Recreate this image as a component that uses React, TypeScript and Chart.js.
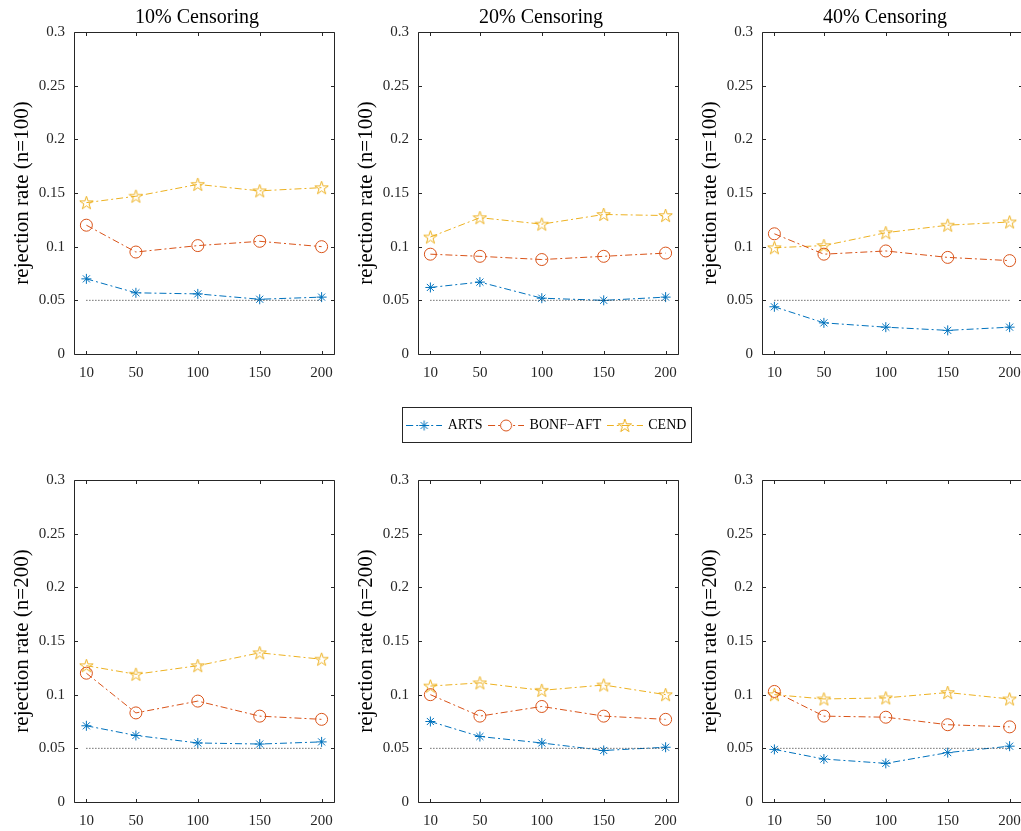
import React, { useEffect, useRef } from 'react';
import { Chart, registerables } from 'chart.js';

Chart.register(...registerables);

// ---------- data ----------
const xValues = [10, 50, 100, 150, 200];
const xTickLabels = ['10', '50', '100', '150', '200'];
const yTickValues = [0, 0.05, 0.1, 0.15, 0.2, 0.25, 0.3];
const yTickLabels = ['0', '0.05', '0.1', '0.15', '0.2', '0.25', '0.3'];
const seriesNames = ['ARTS', 'BONF\u2212AFT', 'CEND'];
const panelTitles = ['10% Censoring', '20% Censoring', '40% Censoring'];
const rowTitles = ['rejection rate (n=100)', 'rejection rate (n=200)'];
const nominalX = [10, 200];
const nominalLevel = 0.05;

const arts100_10 = [0.070, 0.057, 0.056, 0.051, 0.053];
const bonf100_10 = [0.120, 0.095, 0.101, 0.105, 0.100];
const cend100_10 = [0.141, 0.147, 0.158, 0.152, 0.155];
const arts100_20 = [0.062, 0.067, 0.052, 0.050, 0.053];
const bonf100_20 = [0.093, 0.091, 0.088, 0.091, 0.094];
const cend100_20 = [0.109, 0.127, 0.121, 0.130, 0.129];
const arts100_40 = [0.044, 0.029, 0.025, 0.022, 0.025];
const bonf100_40 = [0.112, 0.093, 0.096, 0.090, 0.087];
const cend100_40 = [0.099, 0.101, 0.113, 0.120, 0.123];
const arts200_10 = [0.071, 0.062, 0.055, 0.054, 0.056];
const bonf200_10 = [0.120, 0.083, 0.094, 0.080, 0.077];
const cend200_10 = [0.127, 0.119, 0.127, 0.139, 0.133];
const arts200_20 = [0.075, 0.061, 0.055, 0.048, 0.051];
const bonf200_20 = [0.100, 0.080, 0.089, 0.080, 0.077];
const cend200_20 = [0.108, 0.111, 0.104, 0.109, 0.100];
const arts200_40 = [0.049, 0.040, 0.036, 0.046, 0.052];
const bonf200_40 = [0.103, 0.080, 0.079, 0.072, 0.070];
const cend200_40 = [0.100, 0.096, 0.097, 0.102, 0.096];

// ---------- styles ----------
const FONT = "'Liberation Serif', 'Times New Roman', serif";
const AXIS_COLOR = '#262626';
const colors = ['#0072BD', '#D95319', '#EDB120'];
const DASH_DOT = [7, 3, 2, 3];

function drawPentagram(ctx: CanvasRenderingContext2D, cx: number, cy: number, R: number) {
  ctx.beginPath();
  for (let i = 0; i < 10; i++) {
    const a = -Math.PI / 2 + (i * Math.PI) / 5;
    const r = i % 2 === 0 ? R : R * 0.382;
    const px = cx + r * Math.cos(a);
    const py = cy + r * Math.sin(a);
    if (i === 0) ctx.moveTo(px, py);
    else ctx.lineTo(px, py);
  }
  ctx.closePath();
  ctx.stroke();
}

function drawAsterisk(ctx: CanvasRenderingContext2D, cx: number, cy: number, r: number) {
  ctx.beginPath();
  for (let i = 0; i < 4; i++) {
    const a = (i * Math.PI) / 4;
    ctx.moveTo(cx - r * Math.cos(a), cy - r * Math.sin(a));
    ctx.lineTo(cx + r * Math.cos(a), cy + r * Math.sin(a));
  }
  ctx.stroke();
}

function makePentagramImage(color: string) {
  const c = document.createElement('canvas');
  c.width = 15;
  c.height = 15;
  const ctx = c.getContext('2d')!;
  ctx.strokeStyle = color;
  ctx.lineWidth = 1;
  drawPentagram(ctx, 7.5, 8, 7);
  return c;
}

function makeLegendImage(kind: number) {
  const c = document.createElement('canvas');
  c.width = 36;
  c.height = 16;
  const ctx = c.getContext('2d')!;
  const color = colors[kind];
  ctx.strokeStyle = color;
  ctx.lineWidth = 1;
  ctx.setLineDash(DASH_DOT);
  ctx.beginPath();
  ctx.moveTo(0, 8.5);
  ctx.lineTo(36, 8.5);
  ctx.stroke();
  ctx.setLineDash([]);
  if (kind === 0) drawAsterisk(ctx, 18, 8.5, 5);
  if (kind === 1) {
    ctx.fillStyle = '#fff';
    ctx.beginPath();
    ctx.arc(18, 8.5, 5.5, 0, Math.PI * 2);
    ctx.fill();
    ctx.stroke();
  }
  if (kind === 2) {
    drawPentagram(ctx, 18, 9, 7);
  }
  return c;
}

const boxPlugin = {
  id: 'matlabBox',
  afterDatasetsDraw(chart: any) {
    const { ctx, chartArea } = chart;
    const { left, right, top, bottom } = chartArea;
    const xs = chart.scales.x;
    const ys = chart.scales.y;
    ctx.save();
    ctx.strokeStyle = AXIS_COLOR;
    ctx.lineWidth = 1;
    ctx.setLineDash([]);
    ctx.beginPath();
    const L = Math.round(left) + 0.5;
    const R = Math.round(right) + 0.5;
    const T = Math.round(top) + 0.5;
    const B = Math.round(bottom) + 0.5;
    ctx.rect(L, T, R - L, B - T);
    const tl = 3.5;
    xValues.forEach((v) => {
      const px = Math.round(xs.getPixelForValue(v)) + 0.5;
      ctx.moveTo(px, B);
      ctx.lineTo(px, B - tl);
      ctx.moveTo(px, T);
      ctx.lineTo(px, T + tl);
    });
    yTickValues.forEach((v) => {
      const py = Math.round(ys.getPixelForValue(v)) + 0.5;
      ctx.moveTo(L, py);
      ctx.lineTo(L + tl, py);
      ctx.moveTo(R, py);
      ctx.lineTo(R - tl, py);
    });
    ctx.stroke();
    ctx.restore();
  },
};

type PanelProps = {
  title: string | null;
  yTitle: string;
  arts: number[];
  bonf: number[];
  cend: number[];
  left: number;
  top: number;
  height: number;
  xAxisHeight: number;
};

function Panel(props: PanelProps) {
  const ref = useRef<HTMLCanvasElement>(null);
  useEffect(() => {
    if (!ref.current) return;
    const star = makePentagramImage(colors[2]);
    const series = [props.arts, props.bonf, props.cend];
    const markerStyles: any[] = ['star', 'circle', star];
    const markerRadius = [5, 6, 7];
    const datasets: any[] = [
      {
        label: 'nominal',
        data: nominalX.map((x) => ({ x, y: nominalLevel })),
        borderColor: AXIS_COLOR,
        borderWidth: 1,
        borderDash: [1, 2],
        pointRadius: 0,
        fill: false,
      },
      ...series.map((vals, i) => ({
        label: seriesNames[i],
        data: vals.map((y, j) => ({ x: xValues[j], y })),
        borderColor: colors[i],
        borderWidth: 1,
        borderDash: DASH_DOT,
        pointStyle: markerStyles[i],
        pointRadius: markerRadius[i],
        pointBorderColor: colors[i],
        pointBackgroundColor: 'rgba(0,0,0,0)',
        pointBorderWidth: 1,
        fill: false,
        tension: 0,
      })),
    ];
    const tickFont = { family: FONT, size: 15 };
    const chart = new Chart(ref.current, {
      type: 'line',
      data: { datasets },
      options: {
        responsive: false,
        animation: false,
        events: [],
        layout: { padding: { top: props.title ? 0 : 32, left: 0, right: 0, bottom: 0 } },
        plugins: {
          legend: { display: false },
          tooltip: { enabled: false },
          title: {
            display: !!props.title,
            text: props.title || '',
            font: { family: FONT, size: 20, weight: 'normal' },
            color: '#000',
            padding: { top: 6, bottom: 2 },
          },
        },
        scales: {
          x: {
            type: 'linear',
            min: 0,
            max: 210,
            afterBuildTicks: (s: any) => {
              s.ticks = xValues.map((v) => ({ value: v }));
            },
            ticks: {
              callback: (v: any) => xTickLabels[xValues.indexOf(Number(v))],
              font: tickFont,
              color: AXIS_COLOR,
              padding: 10,
              maxRotation: 0,
              autoSkip: false,
            },
            grid: { display: false, drawTicks: false },
            border: { display: false },
            afterFit: (s: any) => {
              s.height = props.xAxisHeight;
            },
          },
          y: {
            type: 'linear',
            min: 0,
            max: 0.3,
            afterBuildTicks: (s: any) => {
              s.ticks = yTickValues.map((v) => ({ value: v }));
            },
            ticks: {
              callback: (v: any) => {
                const idx = yTickValues.findIndex((t) => Math.abs(t - Number(v)) < 1e-9);
                return yTickLabels[idx];
              },
              font: tickFont,
              color: AXIS_COLOR,
              padding: 9,
              autoSkip: false,
            },
            title: {
              display: true,
              text: props.yTitle,
              font: { family: FONT, size: 21 },
              color: '#000',
              padding: { top: 10, bottom: 0 },
            },
            grid: { display: false, drawTicks: false },
            border: { display: false },
            afterFit: (s: any) => {
              s.width = 74;
            },
          },
          yr: {
            type: 'linear',
            position: 'right',
            min: 0,
            max: 0.3,
            ticks: { display: false },
            grid: { display: false, drawTicks: false },
            border: { display: false },
            afterFit: (s: any) => {
              s.width = 60;
            },
          },
        },
      } as any,
      plugins: [boxPlugin],
    });
    return () => chart.destroy();
  }, []);
  return (
    <canvas
      ref={ref}
      width={394}
      height={props.height}
      style={{ position: 'absolute', left: props.left, top: props.top, display: 'block' }}
    />
  );
}

function Legend() {
  const ref = useRef<HTMLCanvasElement>(null);
  useEffect(() => {
    if (!ref.current) return;
    const imgs = [0, 1, 2].map((k) => makeLegendImage(k));
    const chart = new Chart(ref.current, {
      type: 'line',
      data: {
        datasets: seriesNames.map((n, i) => ({ label: n, data: [], borderColor: colors[i] })),
      },
      options: {
        responsive: false,
        animation: false,
        events: [],
        layout: { padding: 0 },
        scales: { x: { display: false }, y: { display: false } },
        plugins: {
          tooltip: { enabled: false },
          legend: {
            display: true,
            position: 'top',
            maxHeight: 60,
            labels: {
              usePointStyle: true,
              pointStyleWidth: 33,
              padding: 7,
              color: '#000',
              font: { family: FONT, size: 14 },
              generateLabels: (c: any) =>
                c.data.datasets.map((ds: any, i: number) => ({
                  text: ds.label,
                  pointStyle: imgs[i],
                  fillStyle: 'rgba(0,0,0,0)',
                  strokeStyle: 'rgba(0,0,0,0)',
                  lineWidth: 0,
                  hidden: false,
                  datasetIndex: i,
                  fontColor: '#000',
                })),
            },
          },
        },
      } as any,
    });
    return () => chart.destroy();
  }, []);
  return (
    <>
      <div
        style={{
          position: 'absolute',
          left: 402,
          top: 407,
          width: 288,
          height: 34,
          border: `1px solid ${AXIS_COLOR}`,
          background: '#fff',
        }}
      />
      <canvas
        ref={ref}
        width={360}
        height={30}
        style={{ position: 'absolute', left: 367, top: 411, display: 'block' }}
      />
    </>
  );
}

const panelLefts = [0, 344, 688];
const topRow = [
  [arts100_10, bonf100_10, cend100_10],
  [arts100_20, bonf100_20, cend100_20],
  [arts100_40, bonf100_40, cend100_40],
];
const bottomRow = [
  [arts200_10, bonf200_10, cend200_10],
  [arts200_20, bonf200_20, cend200_20],
  [arts200_40, bonf200_40, cend200_40],
];

export default function App() {
  return (
    <div
      style={{
        position: 'absolute',
        left: 0,
        top: 0,
        width: 1021,
        height: 831,
        overflow: 'hidden',
        background: '#fff',
      }}
    >
      <Legend />
      {topRow.map((s, i) => (
        <Panel
          key={'t' + i}
          title={panelTitles[i]}
          yTitle={rowTitles[0]}
          arts={s[0]}
          bonf={s[1]}
          cend={s[2]}
          left={panelLefts[i]}
          top={0}
          height={384}
          xAxisHeight={30}
        />
      ))}
      {bottomRow.map((s, i) => (
        <Panel
          key={'b' + i}
          title={null}
          yTitle={rowTitles[1]}
          arts={s[0]}
          bonf={s[1]}
          cend={s[2]}
          left={panelLefts[i]}
          top={448}
          height={383}
          xAxisHeight={29}
        />
      ))}
    </div>
  );
}
